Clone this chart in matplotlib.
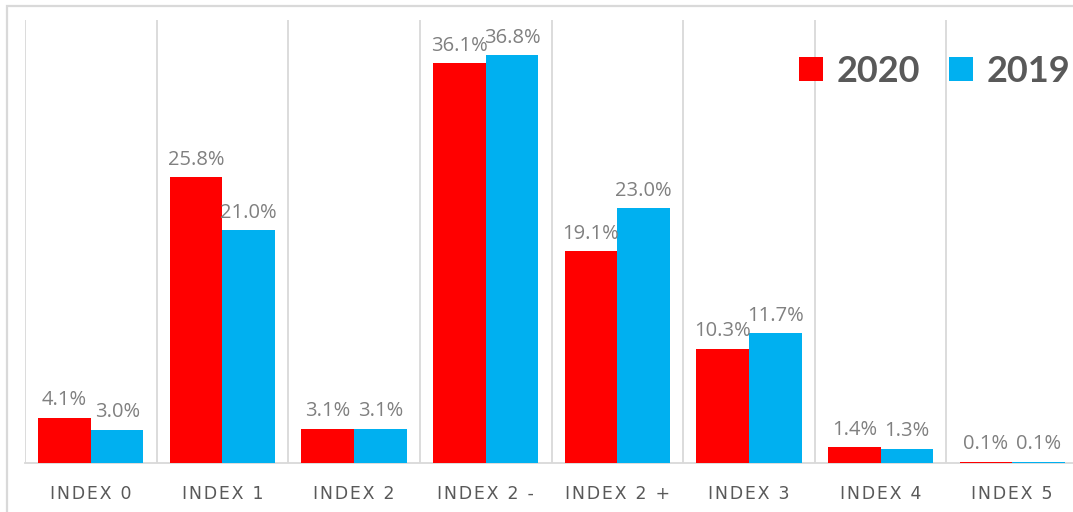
import matplotlib
matplotlib.use("Agg")
import matplotlib.pyplot as plt
from matplotlib.patches import Patch, Rectangle
import numpy as np

categories = ["INDEX 0", "INDEX 1", "INDEX 2", "INDEX 2 -", "INDEX 2 +", "INDEX 3", "INDEX 4", "INDEX 5"]
values_2020 = [4.1, 25.8, 3.1, 36.1, 19.1, 10.3, 1.4, 0.1]
values_2019 = [3.0, 21.0, 3.1, 36.8, 23.0, 11.7, 1.3, 0.1]
series_names = ["2020", "2019"]

RED = "#FF0000"
BLUE = "#00B0F0"
GRID = "#D9D9D9"
LABEL_GRAY = "#808080"
TEXT_DARK = "#595959"

W, H = 1073, 512
fig = plt.figure(figsize=(W / 100, H / 100), dpi=100)
fig.patch.set_facecolor("white")

# chart frame (runs past the right and bottom edges of the canvas)
fig.patches.append(Rectangle((7 / W, -0.1), 1.2, (H - 6) / H + 0.1,
                             transform=fig.transFigure, fill=False,
                             edgecolor=GRID, linewidth=1.6))

ax = fig.add_axes([25 / W, (H - 463) / H, (1078 - 25) / W, (463 - 20) / H])
x = np.arange(len(categories))
w = 0.4
b1 = ax.bar(x - w / 2, values_2020, width=w, color=RED, zorder=3)
b2 = ax.bar(x + w / 2, values_2019, width=w, color=BLUE, zorder=3)

ax.set_xlim(-0.5, len(categories) - 0.5)
ax.set_ylim(0, 40)

# vertical separators between categories
for xb in np.arange(-0.5, len(categories) + 0.5, 1.0):
    ax.axvline(xb, color=GRID, linewidth=1.3, zorder=1)

for s in ["top", "right", "left"]:
    ax.spines[s].set_visible(False)
ax.spines["bottom"].set_color(GRID)
ax.spines["bottom"].set_linewidth(1.3)
ax.set_yticks([])
ax.set_xticks(x)


def spaced(label):
    # widen the letter spacing of category labels with hair spaces
    return "\u200a".join(label)


ax.set_xticklabels([spaced(c) for c in categories], fontsize=12.5,
                   color=TEXT_DARK, family="DejaVu Sans")
ax.tick_params(axis="x", length=0, pad=16)

for bars, vals in ((b1, values_2020), (b2, values_2019)):
    for rect, v in zip(bars, vals):
        ax.annotate(f"{v:.1f}%", (rect.get_x() + rect.get_width() / 2, v),
                    xytext=(0, 5.5), textcoords="offset points",
                    ha="center", va="bottom", fontsize=14.5,
                    color=LABEL_GRAY, family="Open Sans")

handles = [Patch(facecolor=RED, label=series_names[0]),
           Patch(facecolor=BLUE, label=series_names[1])]
leg = ax.legend(handles=handles, ncol=2, frameon=False,
                loc="upper right", bbox_to_anchor=(1070 / W, (H - 55) / H),
                bbox_transform=fig.transFigure,
                prop={"family": "Lato", "weight": "bold", "size": 26},
                handlelength=0.66, handleheight=0.66, handletextpad=0.36,
                columnspacing=0.82, borderpad=0, borderaxespad=0)
for t in leg.get_texts():
    t.set_color(TEXT_DARK)

fig.savefig("out.png", dpi=100)
